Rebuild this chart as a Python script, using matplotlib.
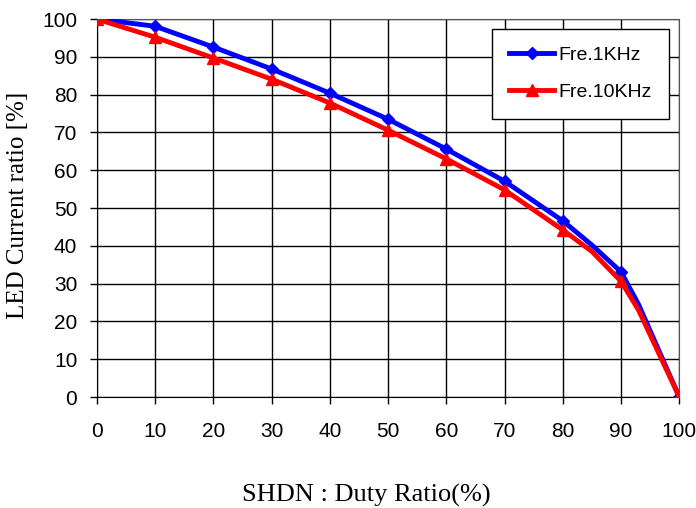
import matplotlib.pyplot as plt
import numpy as np

duty = [0, 10, 20, 30, 40, 50, 60, 70, 80, 85, 90, 93, 100]
fre_1k = [100, 98.1, 92.6, 86.8, 80.4, 73.5, 65.6, 57.1, 46.6, 40.2, 33.1, 24.5, 0]
fre_10k = [100, 95.2, 89.7, 84.1, 77.8, 70.6, 63.0, 54.8, 44.2, 38.5, 30.6, 23.0, 0]
marked = [0, 1, 2, 3, 4, 5, 6, 7, 8, 10, 12]  # markers only at the 10 % steps

fig = plt.figure(figsize=(6.96, 5.08), dpi=100)
ax = fig.add_axes([0.139, 0.2185, 0.837, 0.744])

ax.plot(duty, fre_1k, color='#0000ff', lw=3.5, marker='D', ms=6, markevery=marked,
        label='Fre.1KHz', zorder=3)
ax.plot(duty, fre_10k, color='#ff0000', lw=3.5, marker='^', ms=8, markevery=marked,
        label='Fre.10KHz', zorder=4)

ax.set_xlim(0, 100)
ax.set_ylim(0, 100)
ax.set_xticks(np.arange(0, 101, 10))
ax.set_yticks(np.arange(0, 101, 10))
ax.grid(True, color='black', lw=1)
ax.set_axisbelow(True)
for s in ax.spines.values():
    s.set_color('#555555')
ax.spines['left'].set_color('black')
ax.spines['bottom'].set_color('black')
ax.tick_params(direction='out', length=5, width=1)
ax.tick_params(axis='x', pad=13)
ax.tick_params(axis='y', pad=9)
for lab in ax.get_xticklabels() + ax.get_yticklabels():
    lab.set_family('Liberation Sans')
    lab.set_fontsize(15)

fig.text(366 / 696, 1 - 495 / 508, 'SHDN : Duty Ratio(%)', family='Liberation Serif', fontsize=19,
         ha='center', va='center')
fig.text(18 / 696, 1 - 205 / 508, 'LED Current ratio [%]', family='Liberation Serif', fontsize=18,
         ha='center', va='center', rotation=90)

leg = ax.legend(loc='upper right', bbox_to_anchor=(0.982, 0.974), prop={'family': 'Liberation Sans', 'size': 14},
                fancybox=False, framealpha=1, edgecolor='black', handlelength=2.3, borderpad=0.9,
                labelspacing=1.0, handletextpad=0.2, borderaxespad=0)
leg.get_frame().set_linewidth(1)

fig.savefig('out.png', dpi=100)
